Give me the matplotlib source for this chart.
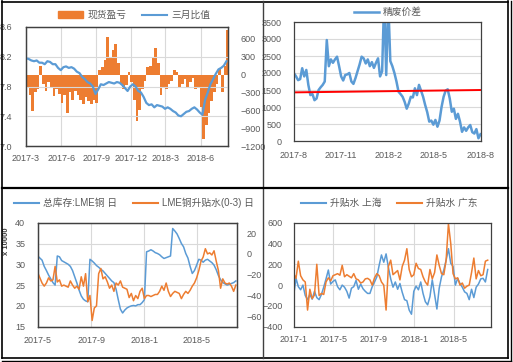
import numpy as np
import pandas as pd
import matplotlib
matplotlib.use("Agg")
import matplotlib.pyplot as plt
import matplotlib.dates as mdates
from matplotlib.lines import Line2D
from matplotlib.patches import Patch
from matplotlib.ticker import FuncFormatter, MultipleLocator

plt.rcParams['font.family'] = ['Liberation Sans', 'Noto Sans CJK SC']

BLUE = '#5B9BD5'
ORANGE = '#ED7D31'
GREY = '#595959'
GRID = '#D9D9D9'

# ---- panel 1: 现货盈亏 (bars, right axis) / 三月比值 (line, left axis), weekly from 2017-03-01
pnl = [-220, -350, -620, -300, -250, 150, -150, -280, -120, -200,
       -360, -250, -330, -480, -350, -640, -300, -420, -280, -350,
       -420, -500, -380, -450, -500, -420, -480, 80, 120, 250,
       630, 300, 420, 520, 200, -150, -250, -180, 50, -120,
       -420, -780, -600, -250, -100, 120, 150, 300, 450, 200,
       -350, -200, -250, -150, -100, 80, 50, -200, -150, -80,
       -200, -120, -60, -250, -200, -550, -1080, -850, -650, -450,
       -300, -150, 100, -300, 150, 750]
ratio = [8.18, 8.17, 8.15, 8.14, 8.15, 8.12, 8.12, 8.10, 8.14, 8.13,
         8.10, 8.10, 8.05, 8.02, 8.06, 8.07, 8.05, 8.06, 8.04, 8.00,
         7.98, 7.93, 7.90, 7.86, 7.84, 7.80, 7.70, 7.76, 7.83, 7.82,
         7.84, 7.86, 7.85, 7.84, 7.86, 7.85, 7.82, 7.78, 7.74, 7.80,
         7.83, 7.80, 7.74, 7.72, 7.66, 7.58, 7.55, 7.56, 7.52, 7.55,
         7.54, 7.53, 7.50, 7.52, 7.50, 7.47, 7.45, 7.41, 7.40, 7.43,
         7.46, 7.47, 7.50, 7.52, 7.49, 7.45, 7.42, 7.62, 7.72, 7.83,
         7.90, 7.97, 8.03, 8.05, 8.08, 8.14]
dates1 = pd.date_range('2017-03-01', periods=len(pnl), freq='7D')

# ---- panel 2: 精废价差, every 4 days from 2017-08-01
spread = [1990, 1900, 1790, 1820, 2140, 1900, 2090, 1650, 1350, 1380,
          1200, 1250, 1500, 1580, 1650, 1750, 2970, 2200, 2400, 2300,
          2400, 2480, 2200, 1900, 1780, 1940, 1960, 2000, 1750, 1680,
          1850, 2050, 2250, 2480, 2430, 2280, 2400, 2200, 2320, 2150,
          2300, 2430, 1900, 2050, 4200, 1940, 4100, 2350, 2200, 2000,
          1750, 1450, 1380, 1300, 1150, 950, 1100, 1300, 1280, 1550,
          1350, 1650, 1480, 1300, 1060, 850, 570, 600, 480, 620,
          420, 600, 1000, 1300, 1480, 1520, 1250, 860, 950, 650,
          800, 570, 270, 400, 300, 400, 470, 260, 220, 350,
          80, 200]
dates2 = pd.date_range('2017-08-01', periods=len(spread), freq='4D')
ref_dates = pd.to_datetime(['2017-08-01', '2018-08-01'])
ref_line = [1430, 1500]

# ---- panel 3: LME stock (x10000, left) / LME 0-3 premium (right), every 5 days from 2017-05-01
stock = [32.0, 31.5, 31.0, 29.5, 28.5, 27.4, 26.5, 25.6, 25.0, 32.0,
         31.8, 30.9, 30.6, 30.3, 30.0, 29.5, 28.5, 27.0, 25.5, 23.8,
         22.4, 21.6, 21.2, 21.0, 31.2, 30.8, 30.3, 29.7, 29.3, 28.8,
         28.4, 27.8, 27.2, 26.6, 26.0, 25.6, 24.0, 21.5, 19.2, 18.3,
         19.0, 19.5, 19.8, 20.0, 20.1, 20.0, 20.3, 20.3, 20.8, 21.5,
         33.0, 33.2, 33.5, 33.2, 32.8, 32.6, 32.3, 31.8, 31.4, 31.6,
         31.8, 32.0, 38.6, 38.0, 37.3, 36.2, 35.0, 34.2, 32.6, 31.5,
         29.5, 27.8, 28.5, 29.8, 31.2, 31.0, 30.5, 31.0, 31.2, 30.8,
         30.4, 29.8, 28.7, 27.3, 26.3, 25.6, 25.3, 25.0, 25.2, 25.4,
         25.6, 26.0]
premium = [-18, -23, -28, -31, -28, -23, -26, -25, -12, -27,
           -25, -31, -30, -31, -32, -26, -30, -33, -31, -34,
           -22, -31, -19, -46, -40, -64, -52, -50, -19, -14,
           -24, -22, -27, -33, -30, -36, -28, -30, -26, -32,
           -33, -34, -42, -38, -45, -40, -43, -36, -33, -43,
           -40, -40, -41, -40, -39, -39, -36, -31, -35, -28,
           -36, -41, -38, -36, -37, -38, -43, -39, -36, -38,
           -35, -31, -28, -23, -16, -7, -3, 5, 0, 1,
           -1, 3, -7, -16, -33, -24, -28, -29, -28, -31,
           -36, -30]
dates3 = pd.date_range('2017-05-01', periods=len(stock), freq='5D')

# ---- panel 4: 升贴水 上海 / 广东, weekly from 2017-01-01
sh = [-95, 65, -15, -45, 0, -100, -140, -90, -135, -60,
      -120, -140, -90, -20, 60, 145, 10, 35, 50, -15,
      -45, 0, -20, -60, -125, -30, -15, 45, -40, 10,
      -35, -60, -80, -80, -15, 30, 80, 190, 290, 220,
      300, 170, 60, -20, 30, -40, 15, -70, -140, -150,
      -240, -280, -60, -10, -45, 30, -80, -160, -190, -110,
      50, -90, -230, -30, 80, 145, 240, 350, 210, 180,
      0, 65, 15, -20, -65, -80, -140, -40, -120, -20,
      10, 60, 65, 30, 150]
gd = [110, 65, 230, 90, 50, 30, -240, -40, -130, -95,
      200, -100, -80, -90, 30, 70, 40, 90, 100, 110,
      95, 190, 80, 100, 85, 70, 110, 60, 50, 20,
      30, 60, 65, 50, 0, 70, 110, 90, 30, 0,
      -240, 180, 240, 100, 120, 140, 50, 180, 240, 350,
      150, 80, 100, 210, 160, 150, 80, 30, 0, 150,
      60, 120, 290, 190, 110, 100, 240, 590, 400, 110,
      60, 70, 0, 20, -30, -10, 0, 120, 260, 60,
      140, 90, 100, 230, 240]
dates4 = pd.date_range('2017-01-01', periods=len(sh), freq='7D')

W, H = 513, 362
fig = plt.figure(figsize=(W / 100, H / 100), dpi=100)


def box(l, t, r, b):
    return fig.add_axes([l / W, 1 - b / H, (r - l) / W, (b - t) / H])


ymfmt = FuncFormatter(lambda v, p: "%d-%d" % (mdates.num2date(v).year, mdates.num2date(v).month))


def style(ax, xpad=5, ypad=8):
    for sp in ax.spines.values():
        sp.set_color('#404040')
        sp.set_linewidth(0.9)
    ax.tick_params(length=0, labelsize=6.5, colors=GREY)
    ax.tick_params(axis='x', pad=xpad)
    ax.tick_params(axis='y', pad=ypad)


def leg(handles, labels, x, y, **kw):
    fig.legend(handles, labels, loc='center', bbox_to_anchor=(x / W, 1 - y / H), ncol=len(labels),
               frameon=False, fontsize=7, handlelength=2.6, handletextpad=0.4,
               columnspacing=1.6, labelcolor=GREY, **kw)


# panel 1
axb = box(26, 27, 228, 146)
axl = axb.twinx()
axb.bar(dates1, pnl, width=7, align='edge', color=ORANGE, linewidth=0)
axb.set_ylim(-1200, 800)
axb.set_yticks(np.arange(-1200, 601, 300))
axb.yaxis.tick_right()
axb.set_axisbelow(True)
axb.grid(axis='x', color=GRID, lw=0.8)
axl.plot(dates1, ratio, color=BLUE, lw=1.6)
axl.set_ylim(7.0, 8.6)
axl.set_yticks([7.0, 7.4, 7.8, 8.2, 8.6])
axl.yaxis.set_major_formatter(FuncFormatter(lambda v, p: "%.1f" % v))
axl.yaxis.tick_left()
axl.grid(axis='y', color=GRID, lw=0.8)
axb.set_xlim(pd.Timestamp('2017-03-01'), pd.Timestamp('2018-08-12'))
axb.xaxis.set_major_locator(mdates.MonthLocator(bymonth=[3, 6, 9, 12]))
axb.xaxis.set_major_formatter(ymfmt)
style(axb, xpad=6, ypad=9)
style(axl, ypad=10)
leg([Patch(color=ORANGE), Line2D([], [], color=BLUE, lw=1.5)], ['现货盈亏', '三月比值'], 134, 15)

# panel 2
ax2 = box(294, 22, 481, 141)
ax2.plot(dates2, spread, color=BLUE, lw=1.8)
ax2.plot(ref_dates, ref_line, color='#FF0000', lw=1.4)
ax2.set_ylim(0, 3500)
ax2.yaxis.set_major_locator(MultipleLocator(500))
ax2.set_axisbelow(True)
ax2.grid(axis='y', color=GRID, lw=0.8)
ax2.set_xlim(pd.Timestamp('2017-08-01'), pd.Timestamp('2018-08-01'))
ax2.xaxis.set_major_locator(mdates.MonthLocator(bymonth=[2, 5, 8, 11]))
ax2.xaxis.set_major_formatter(ymfmt)
style(ax2, xpad=7, ypad=9)
leg([Line2D([], [], color=BLUE, lw=1.8)], ['精废价差'], 388, 12)

# panel 3
ax3 = box(37.7, 222.7, 236.7, 326.7)
ax3r = ax3.twinx()
ax3.plot(dates3, stock, color=BLUE, lw=1.1)
ax3r.plot(dates3, premium, color=ORANGE, lw=1.1)
ax3.set_ylim(15, 40)
ax3.yaxis.set_major_locator(MultipleLocator(5))
ax3r.set_ylim(-70, 30)
ax3r.yaxis.set_major_locator(MultipleLocator(20))
ax3.set_axisbelow(True)
ax3.grid(color=GRID, lw=0.8)
ax3.set_xlim(pd.Timestamp('2017-05-01'), pd.Timestamp('2018-08-01'))
ax3.xaxis.set_major_locator(mdates.MonthLocator(bymonth=[1, 5, 9]))
ax3.xaxis.set_major_formatter(ymfmt)
ax3.set_ylabel('x 10000', fontsize=5.5, color='#404040', fontweight='bold')
ax3.yaxis.set_label_coords(-0.14, 0.82)
style(ax3, xpad=7, ypad=9)
style(ax3r, ypad=7)
leg([Line2D([], [], color=BLUE, lw=1.5), Line2D([], [], color=ORANGE, lw=1.5)],
    ['总库存:LME铜 日', 'LME铜升贴水(0-3) 日'], 134, 203)

# panel 4
ax4 = box(293.7, 222.7, 491, 326.7)
ax4.plot(dates4, sh, color=BLUE, lw=1.1)
ax4.plot(dates4, gd, color=ORANGE, lw=1.1)
ax4.set_ylim(-400, 600)
ax4.yaxis.set_major_locator(MultipleLocator(200))
ax4.set_axisbelow(True)
ax4.grid(color=GRID, lw=0.8)
ax4.set_xlim(pd.Timestamp('2017-01-01'), pd.Timestamp('2018-08-22'))
ax4.xaxis.set_major_locator(mdates.MonthLocator(bymonth=[1, 5, 9]))
ax4.xaxis.set_major_formatter(ymfmt)
style(ax4, xpad=6, ypad=8)
leg([Line2D([], [], color=BLUE, lw=1.5), Line2D([], [], color=ORANGE, lw=1.5)],
    ['升贴水 上海', '升贴水 广东'], 389, 203)

# panel frames
def fline(xs, ys, lw, color='black'):
    fig.add_artist(Line2D([x / W for x in xs], [1 - y / H for y in ys], color=color, lw=lw))


fline([2, 508], [1.5, 1.5], 1.2)
fline([2, 2], [1, 358], 1.2)
fline([508, 508], [1, 358], 1.2)
fline([2, 508], [357.5, 357.5], 1.2)
fline([510.5, 510.5], [1, 360.5], 1.0)
fline([2, 510.5], [360.5, 360.5], 1.0)
fline([263, 263], [1, 358], 1.0, '#404040')
fline([2, 508], [188, 188], 1.6)

fig.savefig('out.png', dpi=100)
